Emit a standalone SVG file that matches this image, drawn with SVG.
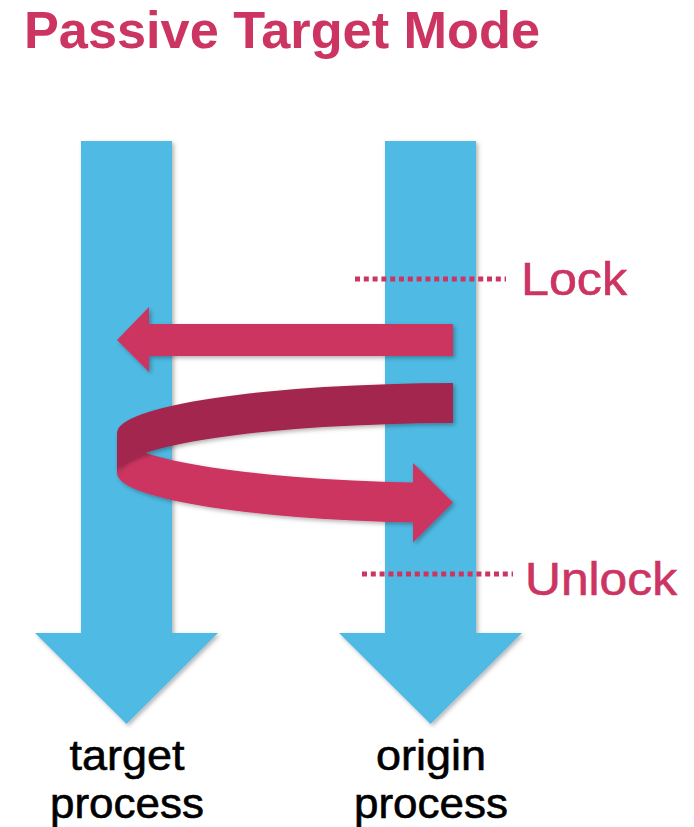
<svg xmlns="http://www.w3.org/2000/svg" width="694" height="827" viewBox="0 0 694 827">
  <defs>
    <filter id="shadow" x="-10%" y="-10%" width="130%" height="130%">
      <feDropShadow dx="2" dy="2" stdDeviation="2" flood-color="#000" flood-opacity="0.3"/>
    </filter>
  </defs>
  <style>
    .lane { fill: #4FBAE3; filter: url(#shadow); }
    .flow { fill: #CC3461; filter: url(#shadow); }
    .flow-back { fill: #A3284F; filter: url(#shadow); }
    .title { font-family: "Liberation Sans", Arial, sans-serif; font-weight: bold; font-size: 52px; fill: #CC3461; }
    .mark { font-family: "Liberation Sans", Arial, sans-serif; font-size: 46px; fill: #CC3461; stroke: #CC3461; stroke-width: 0.6; }
    .label { font-family: "Liberation Sans", Arial, sans-serif; font-size: 43px; fill: #000; stroke: #000; stroke-width: 0.6; text-anchor: middle; }
    .dots { stroke: #CC3461; stroke-width: 5; stroke-dasharray: 5 3.8; fill: none; }
  </style>
  <rect width="694" height="827" fill="#fff"/>

  <text class="title" x="24" y="48" textLength="516" lengthAdjust="spacingAndGlyphs">Passive Target Mode</text>

  <!-- process lanes -->
  <g id="target-process">
    <path class="lane" d="M81 141 H172 V633 H218 L126.5 724 L35 633 H81 Z"/>
    <text class="label" x="127" y="770" textLength="115" lengthAdjust="spacingAndGlyphs">target</text>
    <text class="label" x="127" y="818" textLength="154" lengthAdjust="spacingAndGlyphs">process</text>
  </g>
  <g id="origin-process">
    <path class="lane" d="M385 141 H476 V633 H522 L430.5 724 L339 633 H385 Z"/>
    <text class="label" x="431" y="770" textLength="110" lengthAdjust="spacingAndGlyphs">origin</text>
    <text class="label" x="431" y="818" textLength="154" lengthAdjust="spacingAndGlyphs">process</text>
  </g>

  <!-- epoch markers -->
  <g id="lock">
    <line class="dots" x1="355" y1="279" x2="506" y2="279"/>
    <text class="mark" x="521" y="295" textLength="106" lengthAdjust="spacingAndGlyphs">Lock</text>
  </g>
  <g id="unlock">
    <line class="dots" x1="362" y1="574" x2="513" y2="574"/>
    <text class="mark" x="525" y="595" textLength="152" lengthAdjust="spacingAndGlyphs">Unlock</text>
  </g>

  <!-- operations between the processes -->
  <g id="connectors">
    <!-- put: straight arrow to the target -->
    <path class="flow" d="M453 324 V356 H149 V372 L117 340 L149 307 V324 Z"/>
    <!-- get: front half of the loop, coming back to the origin -->
    <path class="flow" d="M117 433 A343 50 0 0 0 413 482.53 V463 L453 502.53 L413 542.53 V522.53 A343 50 0 0 1 117 473 Z"/>
    <!-- get: back half of the loop -->
    <path class="flow-back" d="M453 383.01 A343 50 0 0 0 117 433 V473 A343 50 0 0 1 453 423.01 Z"/>
  </g>
</svg>
